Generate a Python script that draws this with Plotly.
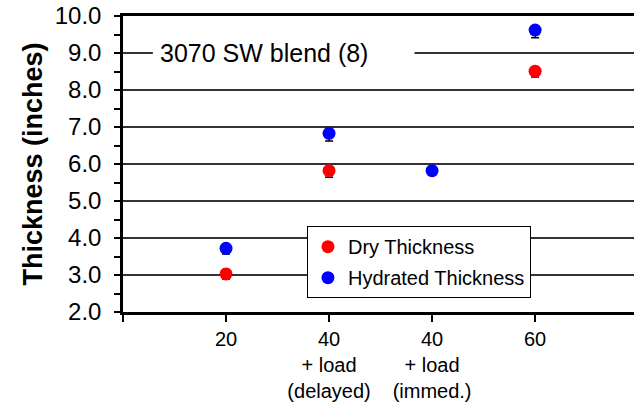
import plotly.graph_objects as go

# Data
categories = [1, 2, 3, 4]
tick_labels = ["20", "40<br>+ load<br>(delayed)", "40<br>+ load<br>(immed.)", "60"]
dry_thickness = [3.03, 5.82, None, 8.51]
dry_err_minus = [0.14, 0.18, 0, 0.16]
hyd_thickness = [3.72, 6.83, 5.82, 9.62]
hyd_err_minus = [0.15, 0.21, 0.10, 0.21]

FONT = "Liberation Sans, Arial, sans-serif"

fig = go.Figure()
fig.add_trace(go.Scatter(
    x=categories, y=dry_thickness, mode="markers", name="Dry Thickness",
    legendgroup="dry",
    marker=dict(color="#ff0000", size=13),
    error_y=dict(type="data", symmetric=False, array=[0, 0, 0, 0],
                 arrayminus=dry_err_minus, color="black", thickness=1.5, width=4),
))
fig.add_trace(go.Scatter(
    x=categories, y=hyd_thickness, mode="markers", name="Hydrated Thickness",
    legendgroup="hyd",
    marker=dict(color="#0000ff", size=13),
    error_y=dict(type="data", symmetric=False, array=[0, 0, 0, 0],
                 arrayminus=hyd_err_minus, color="black", thickness=1.5, width=4),
))

# white box behind the annotation (interrupts the 9.0 gridline)
fig.add_shape(type="rect", xref="x", yref="y", x0=0.29, x1=2.83, y0=8.75, y1=9.25,
              fillcolor="white", line=dict(width=0), layer="above")
fig.add_annotation(text="3070 SW blend (8)", xref="x", yref="y", x=0.34, y=9.0,
                   xanchor="left", yanchor="middle", showarrow=False,
                   font=dict(family=FONT, size=25, color="black"))

fig.update_layout(
    width=634, height=402,
    margin=dict(l=123, r=0, t=16, b=90),
    paper_bgcolor="white", plot_bgcolor="white",
    font=dict(family=FONT, color="black"),
    showlegend=True,
    legend=dict(x=0.36, y=0.29, xanchor="left", yanchor="top",
                bgcolor="white", bordercolor="black", borderwidth=1,
                traceorder="grouped", tracegroupgap=2,
                font=dict(family=FONT, size=20, color="black")),
    xaxis=dict(range=[0, 4.96], tickmode="array", tickvals=[0] + categories,
               ticktext=[""] + tick_labels, ticks="outside", ticklen=7,
               tickwidth=1.5, tickcolor="black", showgrid=False, automargin=False,
               showline=True, linecolor="black", linewidth=2.5, mirror=True,
               zeroline=False, tickfont=dict(family=FONT, size=20, color="black")),
    yaxis=dict(range=[2, 10], dtick=1, tick0=0, tickformat=".1f", automargin=False,
               ticks="outside", ticklen=6, tickwidth=1.5, tickcolor="black",
               minor=dict(dtick=0.5, ticks="outside", ticklen=6, tickwidth=1.5,
                          tickcolor="black", showgrid=False),
               showgrid=True, gridcolor="#333333", gridwidth=1.5,
               showline=True, linecolor="black", linewidth=2.5, zeroline=False,
               ticklabelstandoff=8,
               tickfont=dict(family=FONT, size=24, color="black"),
               title=dict(text="<b>Thickness (inches)</b>", standoff=5,
                          font=dict(family=FONT, size=27, color="black"))),
)

fig.write_html("out.html", config={"displayModeBar": False},
               post_script="document.body.style.margin='0';")
